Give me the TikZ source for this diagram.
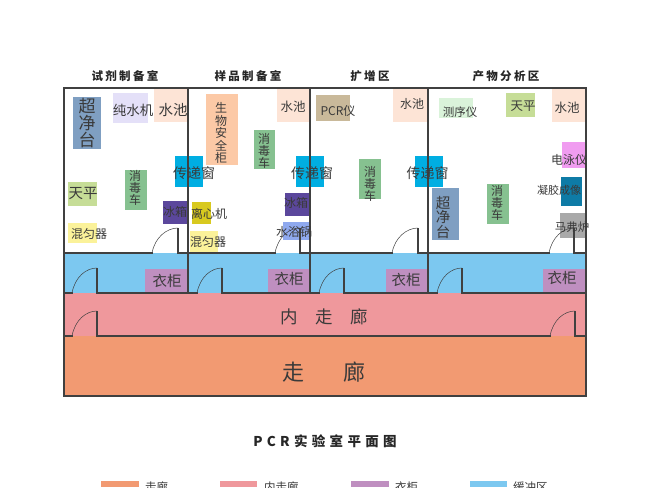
\documentclass[tikz,border=0pt]{standalone}
\usepackage{fontspec}
\setmainfont{Noto Sans CJK SC}
\definecolor{wall}{HTML}{404040}
\definecolor{ink}{HTML}{3A3A3A}
\definecolor{corr}{HTML}{F29A72}
\definecolor{inner}{HTML}{EF989C}
\definecolor{buff}{HTML}{7CC8F0}
\definecolor{closet}{HTML}{BF8FC0}
\definecolor{hood}{HTML}{7F9FC2}
\definecolor{water}{HTML}{E4E0F8}
\definecolor{sink}{HTML}{FDE4D6}
\definecolor{bio}{HTML}{FCC9A6}
\definecolor{cart}{HTML}{86C190}
\definecolor{pass}{HTML}{00AEE2}
\definecolor{bal}{HTML}{C6DD97}
\definecolor{fridge}{HTML}{5B479C}
\definecolor{mix}{HTML}{FBF29A}
\definecolor{cent}{HTML}{D8C91F}
\definecolor{bath}{HTML}{8FA9EE}
\definecolor{pcr}{HTML}{C9B99A}
\definecolor{seq}{HTML}{DAF3DA}
\definecolor{gel}{HTML}{F09CF0}
\definecolor{img}{HTML}{0E7BA6}
\definecolor{muf}{HTML}{A9A9A9}
\tikzset{
  wallline/.style={draw=wall,line width=2.2pt,line cap=rect},
  leaf/.style={draw=wall,line width=1.5pt},
  swing/.style={draw=wall,line width=0.5pt},
  lab/.style={inner sep=0pt,text=ink,align=center},
  ttl/.style={inner sep=0pt,text=black!85,font=\bfseries}
}
% box
\newcommand{\rb}[5]{\fill[#5] (#1,#2) rectangle (#3,#4);}
% text: name x y size text
\newcommand{\tx}[5]{\node[lab,font=\fontsize{#4}{#4}\selectfont] (#1) at (#2,#3) {#5};}
% vertical text: name x y size pitch text
\newcommand{\vt}[6]{\node[lab,font=\fontsize{#4}{#5}\selectfont] (#1) at (#2,#3) {#6};}
% door: left x, right x, wall y, top y
\newcommand{\door}[4]{%
  \draw[leaf] (#2,#3) -- (#2,#4);
  \draw[swing] (#1,#3) .. controls (#1+3,#4+9) and (#2-11,#4) .. (#2,#4);}
\begin{document}
\begin{tikzpicture}[x=1pt,y=-1pt]
\clip (0,0) rectangle (650,487);
\fill[white] (0,0) rectangle (650,487);
% zones
\rb{64}{253}{586}{293}{buff}
\rb{64}{293}{586}{336}{inner}
\rb{64}{336}{586}{396}{corr}
% closets
\rb{145}{269}{188}{293}{closet}
\rb{268}{269}{310}{293}{closet}
\rb{386}{269}{428}{293}{closet}
\rb{543}{269}{586}{293}{closet}
% equipment
\rb{73}{97}{101}{149}{hood}
\rb{113}{93}{148}{123}{water}
\rb{154}{89}{188}{122}{sink}
\rb{206}{94}{238}{165}{bio}
\rb{277}{89}{310}{122}{sink}
\rb{254}{130}{275}{169}{cart}
\rb{175}{156}{203}{187}{pass}
\rb{296}{156}{324}{187}{pass}
\rb{415}{156}{443}{187}{pass}
\rb{125}{170}{147}{210}{cart}
\rb{68}{182}{97}{206}{bal}
\rb{163}{201}{188}{224}{fridge}
\rb{68}{223}{97}{243}{mix}
\rb{192}{202}{211}{224}{cent}
\rb{190}{231}{218}{252}{mix}
\rb{285}{193}{310}{216}{fridge}
\rb{283}{222}{310}{240}{bath}
\rb{316}{95}{350}{121}{pcr}
\rb{393}{89}{428}{122}{sink}
\rb{359}{159}{381}{199}{cart}
\rb{439}{98}{473}{118}{seq}
\rb{506}{93}{535}{117}{bal}
\rb{552}{89}{586}{122}{sink}
\rb{562}{142}{586}{168}{gel}
\rb{561}{177}{582}{206}{img}
\rb{560}{213}{586}{238}{muf}
\rb{432}{188}{459}{240}{hood}
\rb{487}{184}{509}{224}{cart}
% outer walls and partitions
\draw[wallline] (64,88) rectangle (586,396);
\draw[wallline] (188,88) -- (188,293);
\draw[wallline] (310,88) -- (310,293);
\draw[wallline] (428,88) -- (428,293);
% upper wall line
\draw[wallline] (64,253) -- (152,253);
\draw[wallline] (178,253) -- (275,253);
\draw[wallline] (300,253) -- (392,253);
\draw[wallline] (418,253) -- (549,253);
\draw[wallline] (574,253) -- (586,253);
% lower wall line
\draw[wallline] (64,293) -- (72,293);
\draw[wallline] (97,293) -- (197,293);
\draw[wallline] (222,293) -- (319,293);
\draw[wallline] (344,293) -- (437,293);
\draw[wallline] (462,293) -- (586,293);
% corridor wall line
\draw[wallline] (64,336) -- (72,336);
\draw[wallline] (97,336) -- (550,336);
\draw[wallline] (575,336) -- (586,336);
% doors
\door{152}{178}{253}{228}
\door{275}{300}{253}{228}
\door{392}{418}{253}{228}
\door{549}{574}{253}{228}
\door{72}{97}{293}{268}
\door{197}{222}{293}{268}
\door{319}{344}{293}{268}
\door{437}{462}{293}{268}
\door{72}{97}{336}{311}
\door{550}{575}{336}{311}
% room titles
\node[ttl] (t1) at (125,76.5) {\fontsize{11.5}{11.5}\selectfont\addfontfeature{LetterSpace=20}试剂制备室};
\node[ttl] (t2) at (248,76.5) {\fontsize{11.5}{11.5}\selectfont\addfontfeature{LetterSpace=20}样品制备室};
\node[ttl] (t3) at (370,76.5) {\fontsize{11.5}{11.5}\selectfont\addfontfeature{LetterSpace=20}扩增区};
\node[ttl] (t4) at (506,76.5) {\fontsize{11.5}{11.5}\selectfont\addfontfeature{LetterSpace=20}产物分析区};
% labels
\vt{a1}{87}{123}{17}{17}{超\\净\\台}
\tx{a2}{133}{110}{13.5}{纯水机}
\tx{a3}{173}{110}{14.5}{水池}
\vt{a4}{135}{188}{12}{12}{消\\毒\\车}
\tx{a5}{83}{193}{14.5}{天平}
\tx{a6}{175}{212}{12}{冰箱}
\tx{a7}{89}{234}{12}{混匀器}
\tx{a8}{194}{173}{14}{传递窗}
\vt{b1}{221}{133}{12}{12.5}{生\\物\\安\\全\\柜}
\tx{b2}{293}{107}{12.5}{水池}
\vt{b3}{264}{151}{12}{12}{消\\毒\\车}
\tx{b4}{209}{214}{12}{离心机}
\tx{b5}{208}{242}{12}{混匀器}
\tx{b6}{296}{203}{12}{冰箱}
\tx{b7}{294}{232}{12}{水浴锅}
\tx{b8}{312}{173}{14}{传递窗}
\tx{c1}{338}{111}{12}{PCR仪}
\tx{c2}{412}{104}{12}{水池}
\vt{c3}{370}{184}{12}{12}{消\\毒\\车}
\tx{c4}{427.5}{173}{14}{传递窗}
\tx{d1}{460}{112}{11.5}{测序仪}
\tx{d2}{523}{106}{12.5}{天平}
\tx{d3}{567}{108}{12.5}{水池}
\tx{d4}{569}{160}{12}{电泳仪}
\tx{d5}{559}{190}{11}{凝胶成像}
\tx{d6}{572}{227}{11.5}{马弗炉}
\vt{d7}{443}{217}{14.5}{14.5}{超\\净\\台}
\vt{d8}{497}{203}{12}{12}{消\\毒\\车}
\tx{e1}{167}{281}{14.5}{衣柜}
\tx{e2}{289}{279}{14.5}{衣柜}
\tx{e3}{406}{280}{14.5}{衣柜}
\tx{e4}{562}{278}{14.5}{衣柜}
% corridors
\node[lab] (f1) at (324,317) {\fontsize{17.5}{17.5}\selectfont 内\hspace{17.5pt}走\hspace{17.5pt}廊};
\node[lab] (f2) at (324,372) {\fontsize{22}{22}\selectfont 走\hspace{39pt}廊};
% main title
\node[ttl] (g1) at (325,441.5) {\fontsize{13.5}{13.5}\selectfont\addfontfeature{LetterSpace=32}PCR实验室平面图};
% legend
\rb{101}{481}{139}{487}{corr}
\rb{220}{481}{257}{487}{inner}
\rb{351}{481}{389}{487}{closet}
\rb{470}{481}{507}{487}{buff}
\node[lab,anchor=west] (h1) at (145,487) {\fontsize{11.5}{11.5}\selectfont 走廊};
\node[lab,anchor=west] (h2) at (264,487) {\fontsize{11.5}{11.5}\selectfont 内走廊};
\node[lab,anchor=west] (h3) at (395,487) {\fontsize{11.5}{11.5}\selectfont 衣柜};
\node[lab,anchor=west] (h4) at (513,487) {\fontsize{11.5}{11.5}\selectfont 缓冲区};
\end{tikzpicture}
\end{document}
